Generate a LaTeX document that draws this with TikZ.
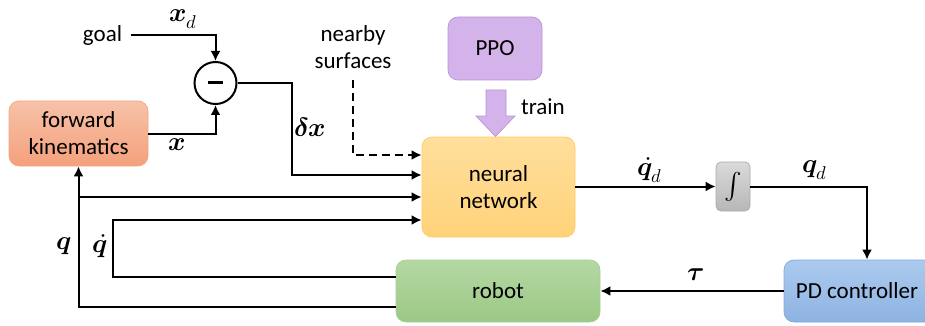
\documentclass[tikz,border=0pt]{standalone}
\usepackage{fontspec}
\usepackage{unicode-math}
\setmainfont{Carlito}
\setmathfont{Latin Modern Math}[Scale=1.15]
\usetikzlibrary{arrows.meta,positioning,calc}

\definecolor{fkTop}{HTML}{F7C2A8}
\definecolor{fkBot}{HTML}{F4A07C}
\definecolor{fkLine}{HTML}{F2A886}
\definecolor{ppoFill}{HTML}{D3B3E9}
\definecolor{ppoLine}{HTML}{B994D4}
\definecolor{nnTop}{HTML}{FFDF9C}
\definecolor{nnBot}{HTML}{FFD279}
\definecolor{nnLine}{HTML}{FFCB62}
\definecolor{intTop}{HTML}{DADADA}
\definecolor{intBot}{HTML}{B7B7B7}
\definecolor{intLine}{HTML}{ABABAB}
\definecolor{pdTop}{HTML}{ABCAEE}
\definecolor{pdBot}{HTML}{8EB3E2}
\definecolor{pdLine}{HTML}{82A9DA}
\definecolor{robTop}{HTML}{B5D8A3}
\definecolor{robBot}{HTML}{9BC886}
\definecolor{robLine}{HTML}{A6D093}

\tikzset{
  block/.style={draw, rounded corners=10pt, line width=0.7pt, align=center,
    inner sep=0pt, font=\fontsize{23}{27}\selectfont},
  sig/.style={-{Latex[length=10pt,width=10pt]}, line width=2pt},
  lbl/.style={font=\fontsize{23}{27}\selectfont, inner sep=0pt},
}

\begin{document}
\begin{tikzpicture}[x=1pt,y=-1pt]
  \clip (0,0) rectangle (925,326);

  % Blocks
  \node[block, top color=fkTop, bottom color=fkBot, draw=fkLine,
    minimum width=139pt, minimum height=65pt] (fk) at (78.5,133.5) {forward\\kinematics};
  \node[draw, circle, line width=2pt, minimum size=42pt, inner sep=0pt] (sum) at (215.5,83) {};
  \node[block, fill=ppoFill, draw=ppoLine,
    minimum width=94pt, minimum height=63pt] (ppo) at (495,48.5) {PPO};
  \node[block, top color=nnTop, bottom color=nnBot, draw=nnLine,
    minimum width=153pt, minimum height=100pt] (nn) at (498.5,187) {neural\\network};
  \node[block, rounded corners=5pt, top color=intTop, bottom color=intBot, draw=intLine,
    minimum width=34pt, minimum height=49pt] (int) at (733,186.5) {$\int$};
  \node[block, top color=pdTop, bottom color=pdBot, draw=pdLine,
    minimum width=166pt, minimum height=62pt] (pd) at (867,291) {\hspace*{-20pt}PD controller};
  \node[block, top color=robTop, bottom color=robBot, draw=robLine,
    minimum width=204pt, minimum height=62pt] (robot) at (498,291) {robot};

  % Texts
  \node[lbl] (goal) at (102.5,35) {goal};
  \node[lbl, align=center] (near) at (353,47) {nearby\\surfaces};
  \node[lbl] (train) at (543,107) {train};

  % Minus sign and training arrow
  \draw[line width=3pt] ($(sum.center)+(-7.5,0)$) -- ($(sum.center)+(7.5,0)$);
  \draw[fill=ppoFill, draw=ppoLine, line width=0.7pt]
    (486,90) -- (506,90) -- (506,116) -- (515,116) -- (495.5,136.5)
    -- (476,116) -- (486,116) -- cycle;

  % Input points of the network
  \coordinate (nnA) at ($(nn.west)+(0,-32)$);
  \coordinate (nnB) at ($(nn.west)+(0,-12)$);
  \coordinate (nnC) at ($(nn.west)+(0,10)$);
  \coordinate (nnD) at ($(nn.west)+(0,33)$);
  \coordinate (robA) at ($(robot.west)+(0,-14)$);
  \coordinate (robB) at ($(robot.west)+(0,16)$);

  % Arrows
  \draw[sig] ([xshift=9pt]goal.east) -| (sum.north);
  \draw[sig] (fk.east) -| (sum.south);
  \draw[sig] (sum.east) -- ++(54,0) |- (nnB);
  \draw[sig, dashed, dash pattern=on 8pt off 5pt] ([yshift=-11pt]near.south) |- (nnA);
  \draw[sig] (nn.east |- int.west) -- (int.west);
  \draw[sig] (int.east) -| (pd.north);
  \draw[sig] (pd.west |- robot.east) -- (robot.east);
  \draw[sig] (robA) -- ++(-283,0) |- (nnD);
  \draw[sig] (robB) -| (fk.south);
  \draw[sig] (fk.south |- nnC) -- (nnC);

  % Signal labels
  \node[lbl] (lxd) at (183,19) {$\symbfit{x}_d$};
  \node[lbl] (lx) at (177,145) {$\symbfit{x}$};
  \node[lbl] (ldx) at (310,127) {$\symbfit{\delta}\symbfit{x}$};
  \node[lbl] (lqdd) at (650,170) {$\dot{\symbfit{q}}_d$};
  \node[lbl] (lqd) at (815,170) {$\symbfit{q}_d$};
  \node[lbl] (ltau) at (696,275) {$\symbfit{\tau}$};
  \node[lbl] (lq) at (64,246) {$\symbfit{q}$};
  \node[lbl] (lqdot) at (100,246) {$\dot{\symbfit{q}}$};
\end{tikzpicture}
\end{document}
